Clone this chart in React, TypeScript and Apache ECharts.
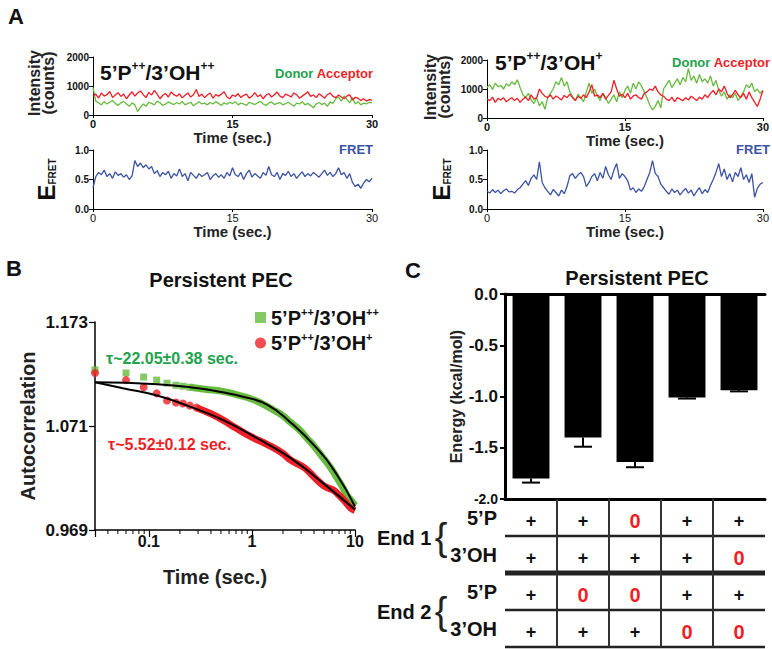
import React, { useEffect, useRef } from "react";
import * as echarts from "echarts";

const FONT = "'Liberation Sans', Arial, Helvetica, sans-serif";

// ---------- Panel A : single-molecule traces (one frame every 0.3 s) ----------
const frameStep = 0.3;
const timeAxis = { min: 0, max: 30, interval: 15 };
const intensityAxis = { min: 0, max: 2000, interval: 1000 };
const fretAxis = { min: 0, max: 1, interval: 0.5 };

const donorLeft = [
  950, 480, 420, 350, 460, 380, 440, 500, 400, 330,
  420, 470, 380, 300, 420, 350, 120, 260, 380, 300,
  440, 400, 350, 480, 420, 330, 380, 450, 400, 360,
  430, 380, 470, 350, 400, 440, 320, 390, 460, 380,
  410, 350, 430, 380, 460, 400, 330, 420, 370, 440,
  390, 460, 350, 410, 380, 330, 440, 400, 360, 420,
  470, 380, 330, 410, 450, 360, 400, 430, 350, 390,
  440, 370, 300, 410, 380, 460, 350, 400, 330, 250,
  380, 430, 360, 410, 300, 450, 400, 560, 620, 480,
  650, 540, 420, 600, 380, 460, 350, 410, 380, 440,
  420,
];
const acceptorLeft = [
  640, 720, 580, 760, 650, 700, 810, 600, 690, 770,
  640, 720, 560, 690, 800, 650, 760, 830, 700, 600,
  780, 690, 850, 720, 560, 680, 740, 620, 790, 700,
  650, 730, 590, 680, 760, 620, 700, 880, 640, 720,
  600, 690, 760, 580, 700, 650, 720, 800, 620, 560,
  690, 640, 740, 600, 680, 720, 580, 650, 770, 630,
  700, 560, 680, 740, 620, 700, 790, 650, 600, 720,
  680, 620, 760, 700, 580, 650, 720, 800, 640, 690,
  600, 730, 660, 580, 700, 760, 640, 600, 690, 620,
  560, 650, 700, 520, 610, 580, 500, 560, 480, 530,
  510,
];
const fretLeft = [
  0.36, 0.55, 0.62, 0.58, 0.66, 0.55, 0.6, 0.52, 0.63, 0.57,
  0.6, 0.54, 0.58, 0.5, 0.56, 0.82, 0.72, 0.78, 0.7, 0.75,
  0.68, 0.72, 0.6, 0.65, 0.55, 0.62, 0.58, 0.64, 0.52, 0.6,
  0.56, 0.68, 0.55, 0.6, 0.48, 0.62, 0.57, 0.52, 0.6, 0.55,
  0.58, 0.62, 0.5, 0.56, 0.6, 0.54, 0.58, 0.52, 0.62, 0.56,
  0.7, 0.58, 0.55, 0.62, 0.5, 0.6, 0.66, 0.54, 0.6, 0.56,
  0.52, 0.62, 0.57, 0.72, 0.58, 0.55, 0.62, 0.5, 0.6, 0.57,
  0.64, 0.55, 0.6, 0.52, 0.58, 0.63, 0.55, 0.6, 0.56, 0.62,
  0.58, 0.54, 0.6, 0.66, 0.57, 0.62, 0.55, 0.6, 0.7, 0.58,
  0.62, 0.52, 0.6, 0.45, 0.38, 0.42, 0.35, 0.44, 0.5, 0.46,
  0.52,
];
const donorRight = [
  1050, 1150, 980, 1200, 1080, 1120, 1000, 1180, 1100, 1250,
  1150, 1320, 1050, 800, 700, 850, 620, 500, 700, 420,
  560, 300, 700, 850, 1000, 1250, 1150, 1400, 1100, 1250,
  900, 750, 600, 820, 700, 560, 900, 1200, 850, 1000,
  750, 600, 850, 700, 500, 650, 800, 560, 900, 700,
  950, 1100, 850, 1200, 1000, 1250, 1100, 900, 700, 450,
  280, 400, 600, 350, 1000, 1150, 1300, 1050, 1200, 1350,
  1150, 1400, 1250, 1700, 1300, 1450, 1200, 1500, 1250, 1350,
  1200, 1450, 1100, 1300, 950, 750, 900, 650, 800, 700,
  850, 600, 750, 900, 1150, 1050, 1200, 900, 1000, 850,
  950,
];
const acceptorRight = [
  650, 600, 720, 540, 680, 620, 700, 560, 640, 700,
  600, 680, 540, 650, 720, 600, 800, 650, 700, 1000,
  850, 750, 700, 800, 650, 760, 700, 620, 780, 700,
  820, 700, 600, 750, 680, 800, 700, 900, 1150, 750,
  800, 700, 850, 650, 780, 900, 1300, 1000, 750, 820,
  700, 850, 650, 760, 800, 700, 650, 850, 900, 1000,
  950, 1100, 900, 800, 750, 650, 600, 720, 560, 700,
  650, 600, 700, 620, 750, 680, 600, 720, 650, 800,
  700, 850, 950, 800, 1000, 900, 1100, 850, 700, 800,
  950, 800, 700, 850, 650, 900, 700, 550, 400, 650,
  950,
];
const fretRight = [
  0.3, 0.27, 0.33, 0.28, 0.32, 0.26, 0.31, 0.34, 0.29, 0.3,
  0.27, 0.33, 0.36, 0.42, 0.48, 0.4, 0.52, 0.58, 0.5, 0.8,
  0.45, 0.36, 0.3, 0.24, 0.33, 0.28, 0.22, 0.32, 0.26, 0.38,
  0.56, 0.6, 0.52, 0.58, 0.62, 0.55, 0.38, 0.45, 0.55, 0.6,
  0.48, 0.62, 0.52, 0.72, 0.58, 0.5, 0.66, 0.77, 0.52, 0.6,
  0.55, 0.48, 0.32, 0.36, 0.28, 0.34, 0.3, 0.38, 0.5, 0.62,
  0.82, 0.6, 0.55, 0.42, 0.36, 0.3, 0.25, 0.34, 0.28, 0.32,
  0.24, 0.3, 0.35, 0.27, 0.32, 0.22, 0.3, 0.36, 0.26, 0.33,
  0.28, 0.4, 0.5, 0.62, 0.77, 0.55, 0.68, 0.5, 0.6, 0.46,
  0.62, 0.55, 0.7, 0.5, 0.58, 0.45, 0.6, 0.2, 0.35, 0.42,
  0.45,
];

// ---------- Panel B : autocorrelation ----------
const autoAxis = { min: 0.969, max: 1.173, interval: 0.102 };
const lagAxis = { min: 0.03, max: 10 };
const greenSparseT = [0.03, 0.06, 0.089, 0.119, 0.15, 0.183, 0.214, 0.25];
const greenSparseV = [1.126, 1.123, 1.119, 1.116, 1.113, 1.111, 1.11, 1.109];
const greenDenseT = [0.25, 0.35, 0.52, 0.75, 0.96, 1.25, 1.6, 2.0, 2.34, 2.9, 3.42, 4.1, 4.89, 5.8, 6.69, 7.5, 8.36, 9.2, 10];
const greenDenseV = [1.109, 1.107, 1.105, 1.101, 1.098, 1.093, 1.087, 1.081, 1.075, 1.067, 1.059, 1.05, 1.04, 1.03, 1.02, 1.012, 1.003, 0.998, 0.993];
const redSparseT = [0.03, 0.06, 0.089, 0.119, 0.15, 0.183, 0.214, 0.25, 0.29];
const redSparseV = [1.123, 1.116, 1.109, 1.103, 1.096, 1.094, 1.093, 1.091, 1.089];
const redDenseT = [0.29, 0.4, 0.52, 0.7, 1.0, 1.4, 2.0, 2.34, 3.0, 3.42, 4.0, 4.89, 5.5, 6.2, 7.0, 8.0, 9.0, 10];
const redDenseV = [1.089, 1.083, 1.077, 1.069, 1.06, 1.053, 1.044, 1.038, 1.032, 1.028, 1.021, 1.013, 1.01, 1.008, 1.003, 0.997, 0.991, 0.988];
const greenFitT = [0.03, 0.12, 0.3, 0.52, 0.8, 1.4, 2.34, 4.27, 6.7, 10];
const greenFitV = [1.114, 1.112, 1.108, 1.104, 1.1, 1.092, 1.075, 1.049, 1.023, 0.992];
const redFitT = [0.03, 0.056, 0.12, 0.25, 0.52, 1.12, 2.34, 4.89, 10];
const redFitV = [1.114, 1.108, 1.101, 1.09, 1.077, 1.059, 1.04, 1.015, 0.989];
const minorLagTicks = [0.04, 0.05, 0.06, 0.07, 0.08, 0.09, 0.2, 0.3, 0.4, 0.5, 0.6, 0.7, 0.8, 0.9, 2, 3, 4, 5, 6, 7, 8, 9];
const legendGreen = "5’P++/3’OH++";
const legendRed = "5’P++/3’OH+";
const tauGreen = "τ~22.05±0.38 sec.";
const tauRed = "τ~5.52±0.12 sec.";

// ---------- Panel C : energies and end table ----------
const conditions = ["c1", "c2", "c3", "c4", "c5"];
const energy = [-1.8, -1.4, -1.64, -1.01, -0.94];
const energyErr = [0.04, 0.09, 0.05, 0.01, 0.01];
const energyAxis = { min: -2, max: 0, interval: 0.5 };
const rowKeys = ["r1", "r2", "r3", "r4"];
const rowLabels = ["5’P", "3’OH", "5’P", "3’OH"];
const end1P5 = ["+", "+", "0", "+", "+"];
const end1OH3 = ["+", "+", "+", "+", "0"];
const end2P5 = ["+", "0", "0", "+", "+"];
const end2OH3 = ["+", "+", "+", "0", "0"];
const groupLabels = ["End 1", "End 2"];

const GREEN = "#67bb3e";
const GREEN_TXT = "#1ea24c";
const RED = "#ee1f27";
const BLUE = "#3b52a5";
const INK = "#111";

function toSeries(arr: number[]) {
  return arr.map((v, i) => [Math.round(i * frameStep * 10) / 10, v]);
}
function pairs(t: number[], v: number[]) {
  return t.map((x, i) => [x, v[i]]);
}

export default function App() {
  const ref = useRef<HTMLDivElement>(null);

  useEffect(() => {
    if (!ref.current) return;
    const chart = echarts.init(ref.current, null, { renderer: "svg" });

    const timeX = (gridIndex: number, bold: boolean) => ({
      type: "value",
      gridIndex,
      ...timeAxis,
      axisLine: { show: true, onZero: false, lineStyle: { color: "#000", width: 1 } },
      axisTick: { show: true, length: 3, lineStyle: { color: "#000" } },
      axisLabel: { fontSize: 11, fontWeight: bold ? "bold" : "normal", color: INK, margin: 3, fontFamily: FONT },
      splitLine: { show: false },
      name: "Time (sec.)",
      nameLocation: "middle",
      nameGap: 13,
      nameTextStyle: { fontSize: 15, fontWeight: "bold", color: "#222", fontFamily: FONT },
    });
    const intensityY = (gridIndex: number) => ({
      type: "value",
      gridIndex,
      ...intensityAxis,
      axisLine: { show: true, lineStyle: { color: "#000", width: 1 } },
      axisTick: { show: true, length: 4, lineStyle: { color: "#000" } },
      axisLabel: {
        fontSize: 10, fontWeight: "bold", color: INK, margin: 4, fontFamily: FONT,
        formatter: (v: number) => String(v),
      },
      splitLine: { show: false },
    });
    const fretY = (gridIndex: number, gap: number) => ({
      type: "value",
      gridIndex,
      ...fretAxis,
      axisLine: { show: true, lineStyle: { color: "#000", width: 1 } },
      axisTick: { show: true, length: 4, lineStyle: { color: "#000" } },
      axisLabel: {
        fontSize: 10, fontWeight: "bold", color: INK, margin: 4, fontFamily: FONT,
        formatter: (v: number) => v.toFixed(1),
      },
      splitLine: { show: false },
      name: "{e|E}{s|FRET}",
      nameLocation: "middle",
      nameRotate: 90,
      nameGap: gap,
      nameTextStyle: {
        rich: {
          e: { fontSize: 24, fontWeight: "bold", color: INK, fontFamily: FONT, lineHeight: 22 },
          s: { fontSize: 10, fontWeight: "bold", color: INK, fontFamily: FONT, verticalAlign: "bottom", lineHeight: 10 },
        },
      },
    });

    const traceLine = (data: number[], color: string, xi: number, yi: number) => ({
      type: "line",
      xAxisIndex: xi,
      yAxisIndex: yi,
      data: toSeries(data),
      showSymbol: false,
      symbol: "none",
      lineStyle: { color, width: 1.3 },
      silent: true,
    });

    const tableCells: string[] = [];
    const tableData: number[][] = [];
    [end1P5, end1OH3, end2P5, end2OH3].forEach((row, r) => {
      row.forEach((txt, c) => {
        tableCells.push(txt);
        tableData.push([c, r]);
      });
    });

    const titleRich = (main: number, sup: number) => ({
      a: { fontSize: main, fontWeight: "bold", fontFamily: FONT, fill: INK, color: INK, lineHeight: main + 3 },
      s: { fontSize: sup, fontWeight: "bold", fontFamily: FONT, fill: INK, color: INK, verticalAlign: "top", lineHeight: sup },
    });

    const txt = (text: string, x: number, y: number, size: number, color: string, align = "left", weight = "bold") => ({
      type: "text",
      x,
      y,
      silent: true,
      style: { text, fill: color, fontSize: size, fontWeight: weight, fontFamily: FONT, align, verticalAlign: "middle" },
    });
    const intensityName = (x: number, y: number) => ({
      type: "text",
      x,
      y,
      rotation: Math.PI / 2,
      silent: true,
      style: {
        text: "Intensity\n(counts)", fill: "#222", fontSize: 16, fontWeight: "bold", fontFamily: FONT,
        lineHeight: 14, align: "center", verticalAlign: "middle",
      },
    });

    const option: any = {
      animation: false,
      backgroundColor: "#fff",
      textStyle: { fontFamily: FONT },
      grid: [
        { left: 93, top: 57, width: 279, height: 58 },
        { left: 93, top: 150, width: 279, height: 59 },
        { left: 487, top: 60, width: 278, height: 58 },
        { left: 487, top: 150, width: 278, height: 59 },
        { left: 95, top: 322, width: 260, height: 208 },
        { left: 505, top: 294, width: 260, height: 205 },
        { left: 505, top: 499, width: 260, height: 148 },
      ],
      xAxis: [
        timeX(0, true),
        timeX(1, false),
        timeX(2, true),
        timeX(3, false),
        {
          type: "log",
          logBase: 10,
          gridIndex: 4,
          ...lagAxis,
          axisLine: { show: true, onZero: false, lineStyle: { color: "#000", width: 1.5 } },
          axisTick: { show: true, length: 7, lineStyle: { color: "#000", width: 1.2 } },
          axisLabel: {
            fontSize: 16, fontWeight: "bold", color: INK, margin: 3, fontFamily: FONT,
            formatter: (v: number) => {
              const l = Math.log10(v);
              if (Math.abs(l - Math.round(l)) > 1e-6) return "";
              const p = Math.round(l);
              return p < 0 ? "0.1" : p === 0 ? "1" : "10";
            },
          },
          splitLine: { show: false },
          minorTick: { show: false },
        },
        {
          type: "category",
          gridIndex: 5,
          data: conditions,
          position: "top",
          axisLine: { show: true, onZero: false, lineStyle: { color: "#000", width: 3 } },
          axisTick: { show: false },
          axisLabel: { show: false },
        },
        {
          type: "category",
          gridIndex: 5,
          data: conditions,
          position: "bottom",
          axisLine: { show: true, onZero: false, lineStyle: { color: "#000", width: 3 } },
          axisTick: { show: false },
          axisLabel: { show: false },
        },
        { type: "category", gridIndex: 6, data: conditions, show: false },
      ],
      yAxis: [
        intensityY(0),
        fretY(1, 36),
        intensityY(2),
        fretY(3, 35),
        {
          type: "value",
          gridIndex: 4,
          ...autoAxis,
          axisLine: { show: true, lineStyle: { color: "#000", width: 1.5 } },
          axisTick: { show: true, length: 6, lineStyle: { color: "#000", width: 1.2 } },
          axisLabel: {
            fontSize: 17, fontWeight: "bold", color: INK, margin: 7, fontFamily: FONT,
            formatter: (v: number) => v.toFixed(3),
          },
          splitLine: { show: false },
          name: "Autocorrelation",
          nameLocation: "middle",
          nameRotate: 90,
          nameGap: 57,
          nameTextStyle: { fontSize: 20, fontWeight: "bold", color: "#222", fontFamily: FONT },
        },
        {
          type: "value",
          gridIndex: 5,
          ...energyAxis,
          axisLine: { show: true, lineStyle: { color: "#000", width: 3 } },
          axisTick: { show: true, length: 5, lineStyle: { color: "#000", width: 2 } },
          axisLabel: {
            fontSize: 17, fontWeight: "bold", color: INK, margin: 7, fontFamily: FONT,
            formatter: (v: number) => (v <= -2 ? "{s|" + v.toFixed(1) + "}" : v.toFixed(1)),
            rich: { s: { fontSize: 14, fontWeight: "bold", color: INK, fontFamily: FONT } },
          },
          splitLine: { show: false },
          name: "Energy (kcal/mol)",
          nameLocation: "middle",
          nameRotate: 90,
          nameGap: 40,
          nameTextStyle: { fontSize: 16, fontWeight: "bold", color: "#222", fontFamily: FONT },
        },
        {
          type: "category",
          gridIndex: 6,
          data: rowKeys,
          inverse: true,
          axisLine: { show: false },
          axisTick: { show: false },
          axisLabel: {
            fontSize: 20, fontWeight: "bold", color: INK, margin: 8, fontFamily: FONT,
            padding: [5, 0, 0, 0],
            formatter: (_v: string, i: number) => rowLabels[i],
          },
          splitLine: { show: false },
        },
      ],
      legend: {
        data: [
          { name: legendGreen, icon: "rect" },
          { name: legendRed, icon: "circle" },
        ],
        orient: "vertical",
        left: 250,
        top: 301,
        itemWidth: 11,
        itemHeight: 11,
        itemGap: 4,
        selectedMode: false,
        formatter: (n: string) =>
          n === legendGreen ? "{a|5’P}{s|++}{a|/3’OH}{s|++}" : "{a|5’P}{s|++}{a|/3’OH}{s|+}",
        textStyle: { rich: titleRich(20, 11) },
      },
      series: [
        traceLine(donorLeft, GREEN, 0, 0),
        traceLine(acceptorLeft, RED, 0, 0),
        traceLine(fretLeft, BLUE, 1, 1),
        traceLine(donorRight, GREEN, 2, 2),
        traceLine(acceptorRight, RED, 2, 2),
        traceLine(fretRight, BLUE, 3, 3),
        {
          type: "line", xAxisIndex: 4, yAxisIndex: 4, smooth: true, symbol: "none",
          data: pairs(greenDenseT, greenDenseV), lineStyle: { color: GREEN, width: 7 }, silent: true,
        },
        {
          type: "line", xAxisIndex: 4, yAxisIndex: 4, smooth: true, symbol: "none",
          data: pairs(redDenseT, redDenseV), lineStyle: { color: RED, width: 7 }, silent: true,
        },
        {
          name: legendGreen, type: "scatter", xAxisIndex: 4, yAxisIndex: 4, symbol: "rect", symbolSize: 7,
          data: pairs(greenSparseT, greenSparseV), itemStyle: { color: GREEN }, silent: true,
        },
        {
          name: legendRed, type: "scatter", xAxisIndex: 4, yAxisIndex: 4, symbol: "circle", symbolSize: 8,
          data: pairs(redSparseT, redSparseV), itemStyle: { color: RED }, silent: true,
        },
        {
          type: "line", xAxisIndex: 4, yAxisIndex: 4, smooth: true, symbol: "none",
          data: pairs(greenFitT, greenFitV), lineStyle: { color: "#000", width: 2 }, silent: true, z: 5,
        },
        {
          type: "line", xAxisIndex: 4, yAxisIndex: 4, smooth: true, symbol: "none",
          data: pairs(redFitT, redFitV), lineStyle: { color: "#000", width: 2 }, silent: true, z: 5,
        },
        {
          type: "custom", xAxisIndex: 4, yAxisIndex: 4, clip: false, silent: true,
          data: minorLagTicks.map((t) => [t, autoAxis.min]),
          renderItem: (_p: any, api: any) => {
            const p = api.coord([api.value(0), api.value(1)]);
            return { type: "line", shape: { x1: p[0], y1: p[1], x2: p[0], y2: p[1] + 4 }, style: { stroke: "#000", lineWidth: 1 } };
          },
        },
        {
          type: "bar", xAxisIndex: 5, yAxisIndex: 5, data: energy, barWidth: "71%",
          itemStyle: { color: "#000" }, silent: true,
        },
        {
          type: "custom", xAxisIndex: 5, yAxisIndex: 5, clip: false, silent: true, z: 3,
          data: energy.map((v, i) => [i, v, energyErr[i]]),
          renderItem: (_p: any, api: any) => {
            const a = api.coord([api.value(0), api.value(1)]);
            const b = api.coord([api.value(0), api.value(1) - api.value(2)]);
            return {
              type: "group",
              children: [
                { type: "line", shape: { x1: a[0], y1: a[1], x2: b[0], y2: b[1] }, style: { stroke: "#000", lineWidth: 2 } },
                { type: "line", shape: { x1: b[0] - 9, y1: b[1], x2: b[0] + 9, y2: b[1] }, style: { stroke: "#000", lineWidth: 2 } },
              ],
            };
          },
        },
        {
          type: "custom", xAxisIndex: 7, yAxisIndex: 6, clip: false, silent: true,
          data: tableData,
          renderItem: (params: any, api: any) => {
            const c = api.value(0);
            const r = api.value(1);
            const p = api.coord([c, r]);
            const s = api.size([1, 1]);
            const w = s[0];
            const h = s[1];
            const t = tableCells[params.dataIndex];
            const children: any[] = [
              {
                type: "text",
                x: p[0],
                y: p[1] + 3,
                style: {
                  text: t,
                  fill: t === "0" ? RED : INK,
                  fontSize: t === "0" ? 20 : 18,
                  fontWeight: "bold",
                  fontFamily: FONT,
                  align: "center",
                  verticalAlign: "middle",
                },
              },
              {
                type: "line",
                shape: { x1: p[0] - w / 2, y1: p[1] + h / 2, x2: p[0] + w / 2, y2: p[1] + h / 2 },
                style: { stroke: "#222", lineWidth: r === 1 ? 5 : 2.5 },
              },
            ];
            if (c < conditions.length - 1) {
              children.push({
                type: "line",
                shape: { x1: p[0] + w / 2, y1: p[1] - h / 2, x2: p[0] + w / 2, y2: p[1] + h / 2 },
                style: { stroke: "#333", lineWidth: 2 },
              });
            }
            return { type: "group", children };
          },
        },
      ],
      graphic: [
        txt("A", 8, 16, 22, INK),
        txt("B", 6, 268, 22, INK),
        txt("C", 405, 270, 22, INK),
        intensityName(41, 83),
        intensityName(437, 87),
        {
          type: "text", x: 100, y: 60, silent: true,
          style: { text: "{a|5’P}{s|++}{a|/3’OH}{s|++}", rich: titleRich(21, 12) },
        },
        {
          type: "text", x: 495, y: 50, silent: true,
          style: { text: "{a|5’P}{s|++}{a|/3’OH}{s|+}", rich: titleRich(21, 12) },
        },
        {
          type: "text", x: 373, y: 73, silent: true,
          style: {
            text: "{g|Donor} {r|Acceptor}", align: "right", verticalAlign: "middle",
            rich: {
              g: { fill: GREEN_TXT, color: GREEN_TXT, fontSize: 13, fontWeight: "bold", fontFamily: FONT },
              r: { fill: RED, color: RED, fontSize: 13, fontWeight: "bold", fontFamily: FONT },
            },
          },
        },
        {
          type: "text", x: 770, y: 62, silent: true,
          style: {
            text: "{g|Donor} {r|Acceptor}", align: "right", verticalAlign: "middle",
            rich: {
              g: { fill: GREEN_TXT, color: GREEN_TXT, fontSize: 13, fontWeight: "bold", fontFamily: FONT },
              r: { fill: RED, color: RED, fontSize: 13, fontWeight: "bold", fontFamily: FONT },
            },
          },
        },
        txt("FRET", 373, 149, 13, BLUE, "right"),
        txt("FRET", 770, 149, 13, BLUE, "right"),
        txt("Persistent PEC", 221, 280, 20, INK, "center"),
        txt("Persistent PEC", 637, 278, 20, INK, "center"),
        txt(tauGreen, 106, 358, 16, GREEN_TXT),
        txt(tauRed, 108, 444, 16, RED),
        txt("Time (sec.)", 215, 577, 20, "#222", "center"),
        txt(groupLabels[0], 377, 538, 20, INK),
        txt(groupLabels[1], 377, 612, 20, INK),
        txt("{", 441, 537, 38, "#222", "center", "normal"),
        txt("{", 441, 611, 38, "#222", "center", "normal"),
      ],
    };

    chart.setOption(option);
    return () => chart.dispose();
  }, []);

  return (
    <div
      ref={ref}
      style={{ position: "fixed", left: 0, top: 0, width: 772, height: 649, background: "#fff" }}
    />
  );
}
